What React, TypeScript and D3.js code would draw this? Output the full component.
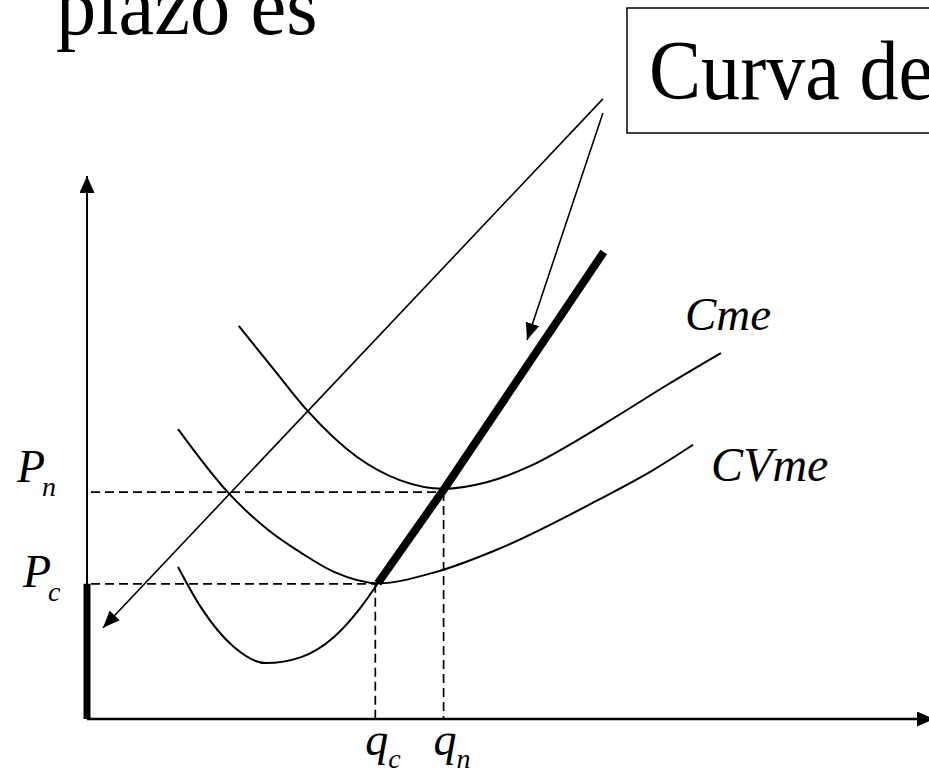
import * as d3 from "d3";

const W = 929;
const H = 776;

// sketch units: quantity q and price p both run 0..100 along the drawn axes
const cmgPoints: [number, number][] = [
  [10.8, 28.0], [13.5, 20.6], [17.4, 13.3], [21.2, 10.3], [25.4, 11.4],
  [29.3, 15.1], [32.5, 20.6], [34.5, 25.0],
];
const supplyPoints: [number, number][] = [[34.5, 25.0], [42.3, 42.2], [61.3, 86.0]];
const cvmePoints: [number, number][] = [
  [10.8, 53.4], [16.8, 41.6], [21.5, 34.8], [25.4, 30.6], [29.3, 27.1], [34.6, 25.0],
  [41.2, 27.0], [49.1, 31.5], [60.6, 40.3], [66.9, 45.6], [71.9, 50.5],
];
const cmePoints: [number, number][] = [
  [18.0, 72.4], [22.2, 64.3], [26.2, 56.7], [32.0, 48.3], [37.1, 44.0], [42.3, 42.4],
  [47.4, 43.6], [52.6, 46.6], [57.8, 51.0], [62.9, 55.8], [68.9, 61.6], [75.2, 67.4],
];

const priceNames = ["P", "P"];
const priceSubs = ["n", "c"];
const priceValues = [41.8, 24.9];
const qtyNames = ["q", "q"];
const qtySubs = ["n", "c"];
const qtyValues = [42.3, 34.2];

const calloutFrom: [number, number][] = [[61.2, 114.2], [61.2, 111.6]];
const calloutTo: [number, number][] = [[1.9, 16.8], [52.2, 69.8]];

const curveNames = ["Cme", "CVme"];

const serif = "'Liberation Serif', 'Times New Roman', serif";

export default function App() {
  const x = d3.scaleLinear().domain([0, 100]).range([87, 930]);
  const y = d3.scaleLinear().domain([0, 100]).range([719, 176]);

  const smooth = d3
    .line<[number, number]>()
    .x((d) => x(d[0]))
    .y((d) => y(d[1]))
    .curve(d3.curveMonotoneX);
  const straight = d3
    .line<[number, number]>()
    .x((d) => x(d[0]))
    .y((d) => y(d[1]));

  const cmeEnd = cmePoints[cmePoints.length - 1];
  const cvmeEnd = cvmePoints[cvmePoints.length - 1];

  // label offsets per price mark (baseline relative to the dashed line)
  const priceLabelDy = [-10, 3];
  const priceLabelX = [17, 23];

  return (
    <svg
      width={W}
      height={H}
      viewBox={`0 0 ${W} ${H}`}
      style={{ position: "absolute", left: 0, top: 0, display: "block", background: "#fff" }}
    >
      <defs>
        <marker
          id="axisHead"
          viewBox="0 0 10 10"
          refX="10"
          refY="5"
          markerWidth="17"
          markerHeight="15"
          markerUnits="userSpaceOnUse"
          orient="auto"
          preserveAspectRatio="none"
        >
          <path d="M0,0L10,5L0,10z" fill="#000" />
        </marker>
        <marker
          id="callHead"
          viewBox="0 0 10 10"
          refX="10"
          refY="5"
          markerWidth="17"
          markerHeight="14"
          markerUnits="userSpaceOnUse"
          orient="auto"
          preserveAspectRatio="none"
        >
          <path d="M0,0L10,5L0,10z" fill="#000" />
        </marker>
      </defs>

      {/* title fragments */}
      <text transform="translate(56,34) scale(0.97,1)" fontFamily={serif} fontSize={83} fill="#000">
        plazo es
      </text>
      <rect x={627} y={8} width={400} height={125} fill="#fff" stroke="#000" strokeWidth={1.5} />
      <text transform="translate(649,99) scale(0.93,1)" fontFamily={serif} fontSize={84} fill="#000">
        Curva de
      </text>

      {/* axes */}
      <line x1={x(0)} y1={y(0)} x2={x(0)} y2={176} stroke="#000" strokeWidth={2} markerEnd="url(#axisHead)" />
      <line x1={x(0)} y1={y(0)} x2={W + 5} y2={y(0)} stroke="#000" strokeWidth={2.5} markerEnd="url(#axisHead)" />

      {/* dashed guides */}
      {priceValues.map((p, i) => (
        <g key={"g" + i} stroke="#000" strokeWidth={1.7} strokeDasharray="9,5" fill="none">
          <line x1={x(0) + 4} y1={y(p)} x2={x(qtyValues[i])} y2={y(p)} />
          <line x1={x(qtyValues[i])} y1={y(p)} x2={x(qtyValues[i])} y2={y(0)} />
        </g>
      ))}

      {/* cost curves */}
      <path d={smooth(cmePoints) ?? ""} fill="none" stroke="#000" strokeWidth={2} />
      <path d={smooth(cvmePoints) ?? ""} fill="none" stroke="#000" strokeWidth={2} />
      <path d={smooth(cmgPoints) ?? ""} fill="none" stroke="#000" strokeWidth={2} />

      {/* supply: thick CMg above min CVme and the vertical segment at q = 0 */}
      <path d={straight(supplyPoints) ?? ""} fill="none" stroke="#000" strokeWidth={8} />
      <line x1={x(0)} y1={y(0)} x2={x(0)} y2={y(priceValues[1])} stroke="#000" strokeWidth={7} />

      {/* callout arrows from the box */}
      {calloutFrom.map((f, i) => (
        <line
          key={"c" + i}
          x1={x(f[0])}
          y1={y(f[1])}
          x2={x(calloutTo[i][0])}
          y2={y(calloutTo[i][1])}
          stroke="#000"
          strokeWidth={1.6}
          markerEnd="url(#callHead)"
        />
      ))}

      {/* curve labels */}
      <text x={x(cmeEnd[0]) - 36} y={y(cmeEnd[1]) - 23} fontFamily={serif} fontStyle="italic" fontSize={47}>
        {curveNames[0]}
      </text>
      <text x={x(cvmeEnd[0]) + 18} y={y(cvmeEnd[1]) + 36} fontFamily={serif} fontStyle="italic" fontSize={48}>
        {curveNames[1]}
      </text>

      {/* axis labels */}
      {priceValues.map((p, i) => (
        <text
          key={"p" + i}
          x={priceLabelX[i]}
          y={y(p) + priceLabelDy[i]}
          fontFamily={serif}
          fontStyle="italic"
          fontSize={46}
        >
          {priceNames[i]}
          <tspan fontSize={28} dx={-3} dy={14}>
            {priceSubs[i]}
          </tspan>
        </text>
      ))}
      {qtyValues.map((q, i) => (
        <text
          key={"q" + i}
          x={x(q) - 10}
          y={755}
          fontFamily={serif}
          fontStyle="italic"
          fontSize={46}
        >
          {qtyNames[i]}
          <tspan fontSize={28} dy={13}>
            {qtySubs[i]}
          </tspan>
        </text>
      ))}
    </svg>
  );
}
